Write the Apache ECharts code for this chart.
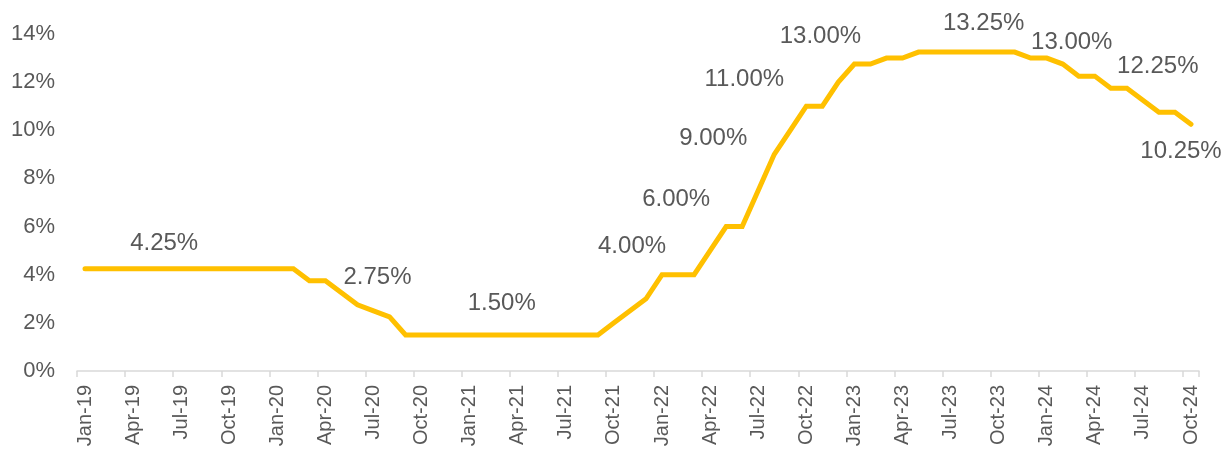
<!DOCTYPE html>
<html>
<head>
<meta charset="utf-8">
<script src="https://cdn.jsdelivr.net/npm/echarts@6/dist/echarts.min.js"></script>
<style>
  html, body { margin: 0; padding: 0; background: #fff; }
  #main { width: 1224px; height: 457px; }
</style>
</head>
<body>
<div id="main"></div>
<script>
// months Jan-19 .. Oct-24
var months = ['Jan', 'Feb', 'Mar', 'Apr', 'May', 'Jun', 'Jul', 'Aug', 'Sep', 'Oct', 'Nov', 'Dec'];
var years = ['19', '20', '21', '22', '23', '24'];
var categories = [];
years.forEach(function (y) {
    months.forEach(function (m) {
        if (categories.length < 70) categories.push(m + '-' + y);
    });
});

// policy rate, % (month end)
var rate2019 = [4.25, 4.25, 4.25, 4.25, 4.25, 4.25, 4.25, 4.25, 4.25, 4.25, 4.25, 4.25];
var rate2020 = [4.25, 4.25, 3.75, 3.75, 3.25, 2.75, 2.50, 2.25, 1.50, 1.50, 1.50, 1.50];
var rate2021 = [1.50, 1.50, 1.50, 1.50, 1.50, 1.50, 1.50, 1.50, 1.50, 2.00, 2.50, 3.00];
var rate2022 = [4.00, 4.00, 4.00, 5.00, 6.00, 6.00, 7.50, 9.00, 10.00, 11.00, 11.00, 12.00];
var rate2023 = [12.75, 12.75, 13.00, 13.00, 13.25, 13.25, 13.25, 13.25, 13.25, 13.25, 13.25, 13.00];
var rate2024 = [13.00, 12.75, 12.25, 12.25, 11.75, 11.75, 11.25, 10.75, 10.75, 10.25];
var rates = [].concat(rate2019, rate2020, rate2021, rate2022, rate2023, rate2024);

// points that carry a data label
var labelIdx = [5, 17, 26, 36, 40, 43, 45, 50, 56, 60, 63, 69];
// label placement relative to the point
var labelShift = [[-1, -25], [20, -27], [0, -32], [-30, -28], [-50, -27], [-61, -16],
                  [-62, -27], [-66, -22], [1, -29], [25, -16], [63, -10], [-10, 27]];

var seriesData = rates.map(function (v, i) {
    var k = labelIdx.indexOf(i);
    if (k < 0) return v;
    return {
        value: v,
        label: { show: true, position: 'inside', offset: labelShift[k] }
    };
});

var chart = echarts.init(document.getElementById('main'));
var option = {
    animation: false,
    textStyle: { fontFamily: 'Liberation Sans, Arial, sans-serif' },
    grid: { left: 77, right: 25, top: 34, bottom: 86, containLabel: false },
    xAxis: {
        type: 'category',
        data: categories,
        boundaryGap: true,
        axisLine: { lineStyle: { color: '#d9d9d9', width: 1.5 } },
        axisTick: { show: true, interval: 2, length: 6, lineStyle: { color: '#d9d9d9', width: 1.5 } },
        axisLabel: {
            interval: 2,
            rotate: 90,
            margin: 14,
            color: '#595959',
            fontSize: 20,
            fontFamily: 'Liberation Sans, Arial, sans-serif'
        },
        splitLine: { show: false }
    },
    yAxis: {
        type: 'value',
        min: 0,
        max: 14,
        interval: 2,
        axisLine: { show: false },
        axisTick: { show: false },
        splitLine: { show: false },
        axisLabel: {
            formatter: '{value}%',
            color: '#595959',
            fontSize: 22,
            margin: 22,
            fontFamily: 'Liberation Sans, Arial, sans-serif'
        }
    },
    series: [
        {
            type: 'line',
            data: seriesData,
            showSymbol: true,
            showAllSymbol: true,
            symbol: 'circle',
            symbolSize: 0.1,
            itemStyle: { color: 'transparent' },
            lineStyle: { color: '#FFC000', width: 5, cap: 'round', join: 'miter' },
            label: {
                show: false,
                color: '#595959',
                fontSize: 24,
                fontFamily: 'Liberation Sans, Arial, sans-serif',
                formatter: function (p) { return p.value.toFixed(2) + '%'; }
            }
        }
    ]
};
chart.setOption(option);
</script>
</body>
</html>
